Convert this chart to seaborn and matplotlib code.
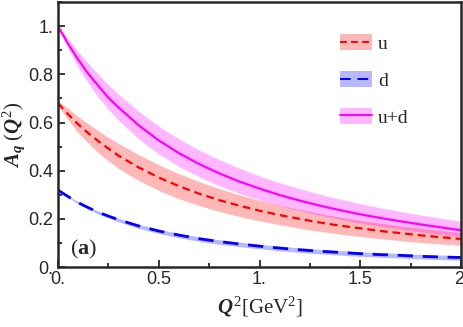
import numpy as np
import pandas as pd
import matplotlib
matplotlib.use("Agg")
import matplotlib.pyplot as plt
import seaborn as sns
from matplotlib.patches import Patch
from matplotlib.lines import Line2D
from matplotlib.ticker import MultipleLocator, FixedLocator

# ----------------------------------------------------------------------
# Values (Q^2 in GeV^2)
# ----------------------------------------------------------------------
q2 = [0.0, 0.05, 0.1, 0.15, 0.2, 0.25, 0.3, 0.4, 0.5, 0.6, 0.7, 0.8, 0.9, 1.0,
      1.1, 1.2, 1.3, 1.4, 1.5, 1.6, 1.7, 1.8, 1.9, 2.0]

a_u = [0.680, 0.635, 0.593, 0.556, 0.523, 0.492, 0.463, 0.414, 0.372, 0.336, 0.305,
       0.278, 0.255, 0.234, 0.216, 0.200, 0.185, 0.172, 0.161, 0.150, 0.141, 0.132,
       0.124, 0.117]
a_u_hi = [0.690, 0.658, 0.625, 0.595, 0.567, 0.538, 0.514, 0.467, 0.425, 0.388, 0.355,
          0.326, 0.300, 0.277, 0.257, 0.239, 0.222, 0.207, 0.194, 0.182, 0.171, 0.161,
          0.152, 0.143]
a_u_lo = [0.670, 0.612, 0.558, 0.515, 0.475, 0.441, 0.410, 0.360, 0.318, 0.284, 0.256,
          0.231, 0.210, 0.192, 0.176, 0.161, 0.148, 0.137, 0.127, 0.118, 0.110, 0.102,
          0.096, 0.090]

a_d = [0.320, 0.293, 0.268, 0.247, 0.228, 0.212, 0.197, 0.171, 0.150, 0.133, 0.118,
       0.106, 0.096, 0.087, 0.079, 0.072, 0.066, 0.061, 0.056, 0.052, 0.049, 0.045,
       0.042, 0.040]
a_d_hi = [0.322, 0.296, 0.272, 0.251, 0.233, 0.217, 0.203, 0.178, 0.157, 0.140, 0.126,
          0.114, 0.104, 0.095, 0.087, 0.080, 0.074, 0.069, 0.064, 0.060, 0.057, 0.053,
          0.050, 0.048]
a_d_lo = [0.318, 0.290, 0.262, 0.242, 0.220, 0.205, 0.188, 0.161, 0.140, 0.122, 0.107,
          0.095, 0.085, 0.076, 0.068, 0.061, 0.055, 0.050, 0.045, 0.041, 0.038, 0.034,
          0.031, 0.029]

a_ud = [1.000, 0.927, 0.862, 0.803, 0.753, 0.703, 0.663, 0.589, 0.526, 0.473, 0.428,
        0.389, 0.355, 0.326, 0.299, 0.276, 0.255, 0.236, 0.219, 0.204, 0.190, 0.177,
        0.165, 0.153]
a_ud_hi = [1.000, 0.950, 0.895, 0.846, 0.800, 0.757, 0.718, 0.647, 0.585, 0.532, 0.486,
           0.446, 0.410, 0.378, 0.350, 0.325, 0.302, 0.282, 0.263, 0.246, 0.231, 0.216,
           0.203, 0.190]
a_ud_lo = [1.000, 0.910, 0.830, 0.764, 0.705, 0.655, 0.610, 0.533, 0.470, 0.418, 0.375,
           0.338, 0.306, 0.279, 0.255, 0.234, 0.215, 0.198, 0.183, 0.170, 0.158, 0.147,
           0.137, 0.128]

labels = ["u", "d", "u+d"]
colors = ["#ff0000", "#0000ff", "#ff00ff"]

x_ticks = [0.0, 0.5, 1.0, 1.5, 2.0]
x_ticklabels = ["0.", "0.5", "1.", "1.5", "2."]
y_ticks = [0.0, 0.2, 0.4, 0.6, 0.8, 1.0]
y_ticklabels = ["0.", "0.2", "0.4", "0.6", "0.8", "1."]

# ----------------------------------------------------------------------
sns.set_style("ticks")
plt.rcParams["font.family"] = ["Liberation Sans", "DejaVu Sans"]
plt.rcParams["mathtext.fontset"] = "custom"
plt.rcParams["mathtext.it"] = "Liberation Serif:italic:bold"
plt.rcParams["mathtext.rm"] = "Liberation Serif"
plt.rcParams["mathtext.bf"] = "Liberation Serif:bold"

df = pd.DataFrame({"q2": q2, "u": a_u, "d": a_d, "u+d": a_ud})
bands = {"u": (a_u_lo, a_u_hi), "d": (a_d_lo, a_d_hi), "u+d": (a_ud_lo, a_ud_hi)}
styles = {"u": dict(lw=1.6, linestyle=(0, (3.5, 2.2))),
          "d": dict(lw=2.0, linestyle=(0, (5.5, 3.5))),
          "u+d": dict(lw=1.6, linestyle="-")}

fig = plt.figure(figsize=(4.63, 3.27), dpi=100)
ax = fig.add_axes([0.125, 0.183, 0.871, 0.811])

for name, col in zip(labels, colors):
    lo, hi = bands[name]
    ax.fill_between(q2, lo, hi, color=col, alpha=0.28, lw=0)

for name, col in zip(labels, colors):
    sns.lineplot(data=df, x="q2", y=name, ax=ax, color=col, errorbar=None,
                 **styles[name])

ax.set_xlim(0, 2)
ax.set_ylim(0, 1.1)
ax.xaxis.set_major_locator(FixedLocator(x_ticks))
ax.set_xticklabels(x_ticklabels)
ax.yaxis.set_major_locator(FixedLocator(y_ticks))
ax.set_yticklabels(y_ticklabels)
ax.xaxis.set_minor_locator(MultipleLocator(0.25))
ax.yaxis.set_minor_locator(MultipleLocator(0.1))
ax.tick_params(which="both", direction="in", width=1.3, labelsize=13, pad=3)
ax.tick_params(which="major", length=5)
ax.tick_params(which="minor", length=3)
ax.tick_params(axis="x", which="both", top=False)
ax.tick_params(axis="y", which="both", right=False)
for sp in ax.spines.values():
    sp.set_visible(True)
    sp.set_linewidth(1.8)

ax.set_xlabel(r"$Q^2[\mathrm{GeV}^2]$", fontsize=15, labelpad=5)
ax.set_ylabel(r"$A_q\;(Q^2)$", fontsize=15, labelpad=1)

ax.text(0.03, 0.065, r"$(\mathbf{a})$", transform=ax.transAxes,
        fontsize=16, ha="left", va="center")

handles = []
for name, col in zip(labels, colors):
    patch = Patch(facecolor=col, alpha=0.28, edgecolor="none")
    line = Line2D([], [], color=col, **{k: v for k, v in styles[name].items() if k != "lw"},
                  lw=1.4)
    handles.append((patch, line))
leg = ax.legend(handles, labels, loc="upper left", bbox_to_anchor=(0.70, 0.878),
                frameon=False, handlelength=1.65, handleheight=0.85,
                labelspacing=0.95, handletextpad=0.3, borderpad=0, borderaxespad=0,
                prop={"family": "Liberation Serif", "size": 14})

fig.savefig("out.png", dpi=100)
